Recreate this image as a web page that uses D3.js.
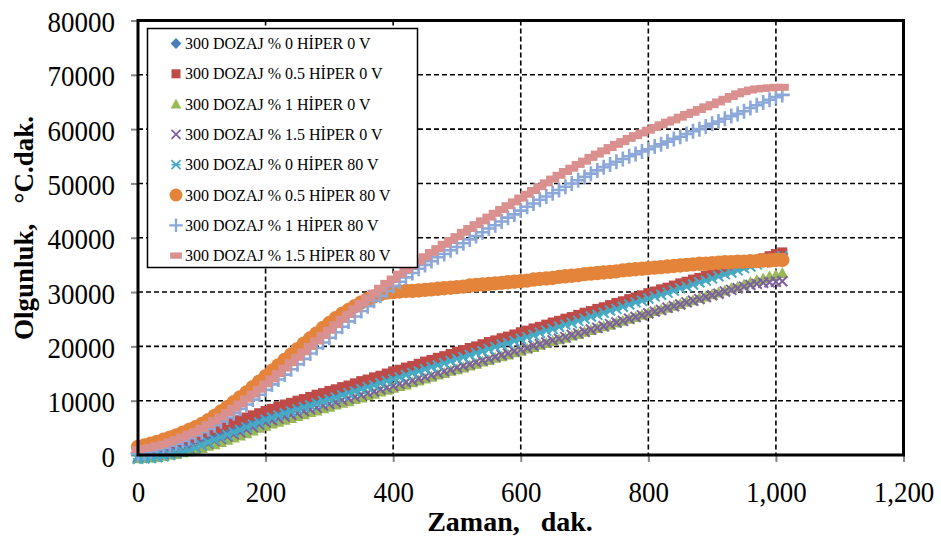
<!DOCTYPE html>
<html>
<head>
<meta charset="utf-8">
<script src="https://cdn.jsdelivr.net/npm/d3@7"></script>
<style>
  body { margin: 0; background: #fff; }
  text { font-family: "Liberation Serif", "Times New Roman", serif; }
</style>
</head>
<body>
<svg id="chart" width="941" height="540"></svg>
<script>
// Sampling times (minutes)
const minutes = [0,10,20,30,40,50,60,70,80,90,100,110,120,130,140,150,160,170,180,190,
  200,210,220,230,240,250,260,270,280,290,300,310,320,330,340,350,360,370,380,390,
  400,410,420,430,440,450,460,470,480,490,500,510,520,530,540,550,560,570,580,590,
  600,610,620,630,640,650,660,670,680,690,700,710,720,730,740,750,760,770,780,790,
  800,810,820,830,840,850,860,870,880,890,900,910,920,930,940,950,960,970,980,990,
  1000,1010];

// Maturity (°C·dak.) for each mix
const d0_0V = [300,400,600,800,1100,1400,1700,2000,2400,2800,
  3200,3600,4100,4500,5000,5400,5800,6300,6700,7100,
  7500,7900,8300,8700,9000,9400,9700,10100,10500,10800,
  11200,11600,12000,12300,12700,13000,13400,13800,14100,14500,
  14900,15200,15600,16000,16300,16700,17100,17400,17800,18200,
  18500,18900,19300,19600,20000,20400,20700,21100,21500,21800,
  22200,22600,22900,23300,23700,24000,24400,24800,25100,25500,
  25900,26200,26600,27000,27300,27700,28100,28400,28800,29200,
  29500,29900,30300,30600,31000,31400,31700,32100,32500,32800,
  33200,33600,33900,34300,34700,35000,35400,35700,36000,36400,
  36700,37000];
const d05_0V = [900,1000,1200,1400,1600,1900,2300,2600,3000,3400,
  3800,4200,4700,5100,5600,6000,6400,6900,7300,7700,
  8100,8500,8900,9300,9600,10000,10300,10700,11100,11400,
  11800,12100,12500,12800,13200,13600,13900,14300,14600,15000,
  15400,15700,16100,16400,16800,17200,17500,17900,18200,18600,
  19000,19300,19700,20000,20400,20800,21100,21500,21800,22200,
  22600,22900,23300,23600,24000,24400,24700,25100,25400,25800,
  26200,26500,26900,27200,27600,28000,28300,28700,29000,29400,
  29800,30100,30500,30800,31200,31600,31900,32300,32600,33000,
  33400,33700,34100,34400,34800,35200,35500,35900,36200,36600,
  37000,37300];
const d1_0V = [-600,-550,-450,-350,-150,50,200,500,700,1000,
  1300,1700,2000,2400,2800,3200,3600,4000,4500,5000,
  5400,5800,6100,6500,6800,7200,7500,7900,8200,8600,
  8900,9300,9600,9900,10300,10600,11000,11300,11700,12000,
  12400,12700,13000,13400,13700,14100,14400,14800,15100,15500,
  15800,16100,16500,16800,17200,17500,17900,18200,18500,18900,
  19200,19600,19900,20300,20600,21000,21300,21600,22000,22300,
  22700,23000,23400,23700,24000,24400,24700,25100,25400,25800,
  26100,26500,26800,27100,27500,27800,28200,28500,28900,29200,
  29600,29900,30300,30700,31000,31400,31800,32200,32500,32900,
  33200,33500];
const d15_0V = [-400,-350,-200,-100,100,300,600,900,1200,1500,
  1800,2100,2600,3000,3400,3800,4200,4700,5100,5600,
  6000,6400,6700,7100,7400,7700,8100,8400,8700,9100,
  9400,9700,10100,10400,10700,11100,11400,11700,12100,12400,
  12700,13100,13400,13700,14100,14400,14700,15100,15400,15700,
  16100,16400,16700,17100,17400,17700,18100,18400,18700,19100,
  19400,19700,20100,20400,20700,21100,21400,21700,22100,22400,
  22700,23100,23400,23700,24100,24400,24700,25100,25400,25700,
  26100,26400,26700,27100,27400,27700,28100,28400,28700,29100,
  29400,29700,30100,30400,30700,31000,31300,31500,31700,31800,
  31900,32000];
const d0_80V = [-700,-650,-550,-400,-250,0,300,600,900,1300,
  1800,2300,2800,3200,3700,4200,4600,5100,5600,6000,
  6500,6900,7300,7700,8000,8400,8800,9100,9500,9900,
  10200,10600,11000,11400,11700,12100,12500,12800,13200,13600,
  13900,14300,14700,15100,15400,15800,16200,16500,16900,17300,
  17700,18000,18400,18800,19100,19500,19900,20300,20600,21000,
  21400,21700,22100,22500,22900,23200,23600,24000,24300,24700,
  25100,25500,25800,26200,26600,26900,27300,27700,28100,28400,
  28800,29200,29500,29900,30300,30700,31000,31400,31800,32100,
  32500,32900,33300,33600,34000,34400,34700,35100,35500,35900,
  36200,36600];
const d05_80V = [1500,1750,2100,2400,2800,3200,3600,4100,4600,5100,
  5700,6400,7200,8000,8800,9700,10600,11500,12500,13500,
  14500,15500,16500,17500,18500,19500,20500,21500,22400,23400,
  24300,25200,26000,26700,27400,28100,28700,29200,29600,29900,
  30000,30100,30200,30200,30300,30400,30500,30600,30700,30800,
  30900,31000,31200,31300,31400,31500,31600,31700,31800,31900,
  32000,32100,32300,32400,32500,32600,32800,32900,33000,33100,
  33300,33400,33500,33600,33700,33800,34000,34100,34200,34300,
  34400,34500,34600,34700,34800,34900,35000,35100,35200,35200,
  35300,35400,35500,35500,35600,35600,35700,35700,35800,35800,
  35900,35900];
const d1_80V = [300,500,700,1000,1300,1700,2100,2600,3100,3600,
  4200,4800,5500,6200,6900,7700,8500,9300,10200,11100,
  12000,13000,13900,14800,15800,16700,17700,18700,19700,20700,
  21600,22600,23600,24600,25500,26500,27400,28400,29300,30200,
  31100,31900,32700,33500,34300,35000,35700,36400,37000,37700,
  38300,39000,39700,40300,41000,41700,42300,43000,43700,44300,
  45000,45700,46300,47000,47600,48200,48800,49400,50000,50600,
  51200,51800,52400,53000,53500,54000,54500,55000,55400,55900,
  56300,56800,57200,57700,58200,58600,59100,59600,60000,60500,
  61000,61400,61900,62400,62800,63300,63900,64400,64900,65400,
  65900,66300];
const d15_80V = [1000,1200,1400,1700,2000,2400,2800,3300,3800,4300,
  4900,5600,6300,7000,7800,8600,9400,10300,11200,12100,
  13100,14000,15000,16000,17000,18000,19000,20000,21000,22000,
  23000,24000,25000,25900,26900,27900,28900,29800,30700,31600,
  32400,33300,34100,34900,35700,36500,37300,38000,38800,39500,
  40200,41000,41700,42400,43100,43800,44500,45200,45900,46600,
  47300,48000,48700,49400,50100,50800,51500,52200,52800,53500,
  54100,54800,55400,56000,56600,57200,57700,58300,58800,59300,
  59800,60300,60800,61300,61700,62200,62700,63100,63600,64100,
  64500,65000,65500,66000,66500,66900,67200,67400,67500,67600,
  67700,67700];

const seriesNames = [
  "300 DOZAJ % 0 HİPER 0 V",
  "300 DOZAJ % 0.5 HİPER 0 V",
  "300 DOZAJ % 1 HİPER 0 V",
  "300 DOZAJ % 1.5 HİPER 0 V",
  "300 DOZAJ % 0 HİPER 80 V",
  "300 DOZAJ % 0.5 HİPER 80 V",
  "300 DOZAJ % 1 HİPER 80 V",
  "300 DOZAJ % 1.5 HİPER 80 V"
];
const seriesValues = [d0_0V, d05_0V, d1_0V, d15_0V, d0_80V, d05_80V, d1_80V, d15_80V];
const seriesColors = ["#4A7EBB", "#BE4B48", "#98B954", "#7D60A0", "#46AAC5", "#E4843A", "#8CA8D8", "#D9908E"];
const seriesMarkers = ["diamond", "square", "triangle", "x", "star", "circle", "plus", "dash"];

const xTicks = [0, 200, 400, 600, 800, 1000, 1200];
const yTicks = [0, 10000, 20000, 30000, 40000, 50000, 60000, 70000, 80000];

const svg = d3.select("#chart");
const x = d3.scaleLinear().domain([0, 1200]).range([138, 903.5]);
const y = d3.scaleLinear().domain([0, 80000]).range([455, 20.5]);
const plotLeft = x.range()[0], plotRight = x.range()[1], plotTop = y.range()[1], plotBottom = y.range()[0];

// Dashed gridlines
const grid = svg.append("g");
grid.selectAll("line.v").data(xTicks.filter(d => d > 0 && d < 1200)).join("line")
  .attr("x1", d => x(d)).attr("x2", d => x(d)).attr("y1", plotTop).attr("y2", plotBottom)
  .attr("stroke", "#000").attr("stroke-width", 1.6).attr("stroke-dasharray", "5,3");
grid.selectAll("line.h").data(yTicks.filter(d => d > 0 && d < 80000)).join("line")
  .attr("x1", plotLeft).attr("x2", plotRight).attr("y1", d => y(d)).attr("y2", d => y(d))
  .attr("stroke", "#000").attr("stroke-width", 1.6).attr("stroke-dasharray", "5,3");

// Axes (tick labels are set in a slightly tall serif face)
const textStretch = 1.12;
const yAxis = svg.append("g").attr("transform", `translate(${plotLeft},0)`)
  .call(d3.axisLeft(y).tickValues(yTicks).tickFormat(d3.format("d")).tickSize(7).tickPadding(16));
const xAxis = svg.append("g").attr("transform", `translate(0,${plotBottom})`)
  .call(d3.axisBottom(x).tickValues(xTicks).tickFormat(d3.format(",")).tickSize(7).tickPadding(21));
[yAxis, xAxis].forEach(g => {
  g.select(".domain").remove();
  g.selectAll(".tick line").attr("stroke", "#888").attr("stroke-width", 2);
  g.selectAll(".tick text").attr("font-family", "Liberation Serif, serif").attr("font-size", 27).attr("fill", "#000");
});
yAxis.selectAll(".tick text").each(function () {
  const t = d3.select(this), tx = +t.attr("x");
  t.attr("x", 0).attr("y", 0).attr("dy", null)
    .attr("transform", `translate(${tx},11) scale(1,${textStretch})`);
});
xAxis.selectAll(".tick text").each(function () {
  d3.select(this).attr("y", 0).attr("dy", null)
    .attr("transform", `translate(0,47) scale(1,${textStretch})`);
});

// Marker shapes
function drawMarker(sel, kind, color) {
  switch (kind) {
    case "diamond":
      sel.append("path").attr("d", "M0,-6L6,0L0,6L-6,0Z").attr("fill", color); break;
    case "square":
      sel.append("rect").attr("x", -5).attr("y", -5).attr("width", 10).attr("height", 10).attr("fill", color); break;
    case "triangle":
      sel.append("path").attr("d", "M0,-6L6,5L-6,5Z").attr("fill", color); break;
    case "x":
      sel.append("path").attr("d", "M-5,-5L5,5M-5,5L5,-5").attr("stroke", color).attr("stroke-width", 2).attr("fill", "none"); break;
    case "star":
      sel.append("path").attr("d", "M-5,-5L5,5M-5,5L5,-5M-5,0L5,0").attr("stroke", color).attr("stroke-width", 2).attr("fill", "none"); break;
    case "circle":
      sel.append("circle").attr("r", 7.2).attr("fill", color); break;
    case "plus":
      sel.append("path").attr("d", "M-7.5,0L7.5,0M0,-7.5L0,7.5").attr("stroke", color).attr("stroke-width", 2.6).attr("fill", "none"); break;
    case "dash":
      sel.append("rect").attr("x", -6.5).attr("y", -3.5).attr("width", 13).attr("height", 7).attr("fill", color); break;
  }
}

// Data points, series 1 drawn first so later series sit on top
const plot = svg.append("g");
seriesValues.forEach((vals, si) => {
  const g = plot.append("g");
  g.selectAll("g").data(vals.map((v, i) => [minutes[i], v])).join("g")
    .attr("transform", d => `translate(${x(d[0])},${y(d[1])})`)
    .each(function () { drawMarker(d3.select(this), seriesMarkers[si], seriesColors[si]); });
});

// Plot frame
svg.append("path")
  .attr("d", `M${plotLeft},${plotTop}H${plotRight}V${plotBottom}H${plotLeft}Z`)
  .attr("fill", "none").attr("stroke", "#000").attr("stroke-width", 3);

// Legend
const legend = svg.append("g");
legend.append("rect").attr("x", 147.5).attr("y", 28.5).attr("width", 270).attr("height", 239)
  .attr("fill", "#fff").attr("stroke", "#000").attr("stroke-width", 1.5);
seriesNames.forEach((name, i) => {
  const cy = 43.5 + i * 30.3;
  const m = legend.append("g").attr("transform", `translate(176,${cy}) scale(0.9)`);
  drawMarker(m, seriesMarkers[i], seriesColors[i]);
  legend.append("text").attr("x", 185).attr("y", cy).attr("dy", "0.35em")
    .attr("font-size", 16).attr("fill", "#000").text(name);
});

// Axis titles
svg.append("text").attr("x", 510).attr("y", 531).attr("text-anchor", "middle")
  .attr("font-size", 28).attr("font-weight", "bold").style("white-space", "pre")
  .text("Zaman,   dak.");
svg.append("text").attr("transform", "translate(33,228) rotate(-90)").attr("text-anchor", "middle")
  .attr("font-size", 27).attr("font-weight", "bold").style("white-space", "pre")
  .text("Olgunluk,   °C.dak.");
</script>
</body>
</html>
